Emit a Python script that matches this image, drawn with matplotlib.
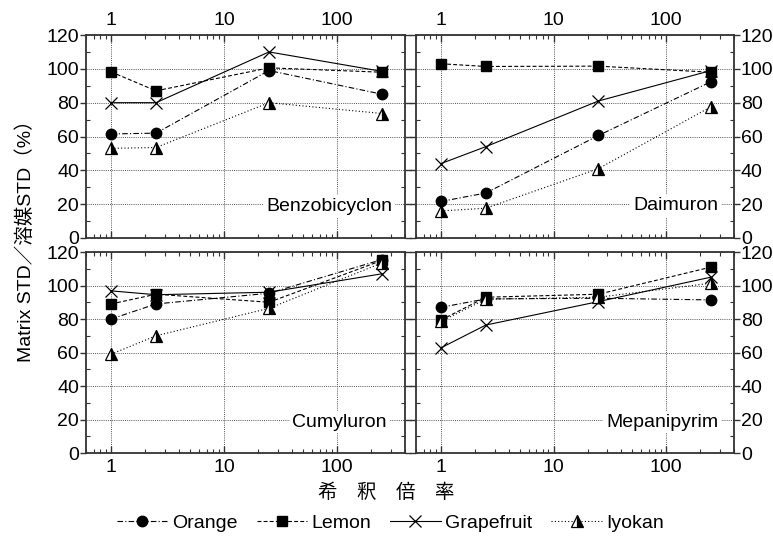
import matplotlib.pyplot as plt
from matplotlib.ticker import MultipleLocator, LogLocator, FixedLocator, NullFormatter

plt.rcParams['font.family'] = ['Liberation Sans', 'Noto Sans CJK JP', 'DejaVu Sans']

# dilution factor (x) and compounds (one panel each)
dilution = [1, 2.5, 25, 250]
compounds = ["Benzobicyclon", "Daimuron", "Cumyluron", "Mepanipyrim"]

# rows follow compounds order, values are Matrix STD / solvent STD (%)
orange = [[61.5, 62, 99, 85],
          [21.6, 26.6, 60.6, 92.4],
          [80, 89, 95.4, 115.5],
          [87, 92, 92.4, 91.4]]
lemon = [[98.2, 87, 100.6, 98],
         [103, 101.4, 101.6, 98],
         [89, 94.8, 90, 115],
         [79.4, 93, 94.8, 111]]
grapefruit = [[80, 80, 110, 98.5],
              [44, 54, 81, 99],
              [96.8, 94.5, 96, 107],
              [62.8, 76.4, 90.4, 105]]
iyokan = [[53, 53.5, 80, 73.6],
          [16, 17.6, 41, 77.6],
          [59, 70, 86.4, 113.5],
          [78.6, 91.8, 93, 101.4]]

fruit_names = ["Orange", "Lemon", "Grapefruit", "Iyokan"]

styles = {
    "Orange": dict(ls=(0, (5, 2, 1, 2)), marker='o', ms=7.5, mfc='black', mec='black'),
    "Lemon": dict(ls=(0, (3.5, 2)), marker='s', ms=6.5, mfc='black', mec='black'),
    "Grapefruit": dict(ls='-', marker='x', ms=9, mfc='none', mec='black', mew=0.9),
    "Iyokan": dict(ls=(0, (1, 2)), marker='^', ms=8, mfc='black', mec='black',
                   fillstyle='right', markerfacecoloralt='white', mew=0.9),
}

FS = 14

fig = plt.figure(figsize=(7.73, 5.37), dpi=100)

positions = [
    [0.1113, 0.5568, 0.4127, 0.378],
    [0.5382, 0.5568, 0.4114, 0.378],
    [0.1113, 0.1564, 0.4127, 0.3743],
    [0.5382, 0.1564, 0.4114, 0.3743],
]

label_pos = [(0.96, 0.155), (0.95, 0.16), (0.943, 0.154), (0.95, 0.154)]

series = [orange, lemon, grapefruit, iyokan]
handles = []

for i, name in enumerate(compounds):
    ax = fig.add_axes(positions[i])
    for fruit, data in zip(fruit_names, series):
        st = styles[fruit]
        h, = ax.plot(dilution, data[i], color='black', lw=0.8, label=fruit, **st)
        if i == 0:
            handles.append(h)

    ax.set_xscale('log')
    ax.set_xlim(0.6, 400)
    ax.set_ylim(0, 120)
    ax.yaxis.set_major_locator(MultipleLocator(20))
    ax.yaxis.set_minor_locator(MultipleLocator(10))
    ax.xaxis.set_major_locator(FixedLocator([1, 10, 100]))
    ax.xaxis.set_minor_locator(LogLocator(base=10, subs=range(2, 10)))
    ax.xaxis.set_minor_formatter(NullFormatter())
    ax.set_xticklabels(["1", "10", "100"])

    ax.grid(True, which='major', ls=(0, (1, 1.2)), color='#555555', lw=0.7)

    for sp in ax.spines.values():
        sp.set_linewidth(1.3)
        sp.set_color('#333333')

    top = i < 2
    left = i % 2 == 0
    ax.tick_params(axis='both', which='both', top=True, bottom=True, left=True, right=True,
                   labelsize=FS, color='#333333')
    ax.tick_params(axis='x', which='both', direction='in',
                   labeltop=top, labelbottom=not top, pad=4)
    ax.tick_params(axis='x', which='major', length=5, width=1)
    ax.tick_params(axis='x', which='minor', length=3, width=0.8)
    ax.tick_params(axis='y', which='major', direction='out', length=4, width=1,
                   labelleft=left, labelright=not left, pad=1)
    ax.tick_params(axis='y', which='minor', direction='in', length=3, width=0.8)

    ax.text(label_pos[i][0], label_pos[i][1], name, transform=ax.transAxes,
            ha='right', va='center', fontsize=FS,
            bbox=dict(facecolor='white', edgecolor='none', pad=2))

fig.text(0.033, 0.56, "Matrix STD／溶媒STD（%）", rotation=90,
         ha='center', va='center', fontsize=FS)
fig.text(0.5, 0.082, "希　釈　倍　率", ha='center', va='center', fontsize=FS)

fig.legend(handles, fruit_names, loc='center', bbox_to_anchor=(0.505, 0.026), ncol=4,
           frameon=False, fontsize=FS, handlelength=2.6, handletextpad=0.2,
           columnspacing=1.0)

fig.savefig("out.png", dpi=100)
